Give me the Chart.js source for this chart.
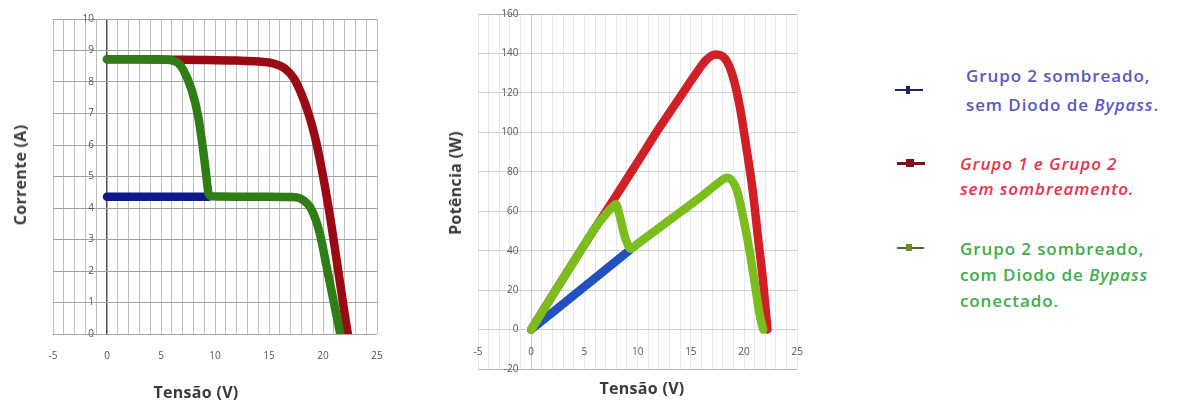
<!DOCTYPE html>
<html>
<head>
<meta charset="utf-8">
<script src="https://cdn.jsdelivr.net/npm/chart.js@4.4.1/dist/chart.umd.min.js"></script>
<style>
  body { margin:0; background:#fff; width:1178px; height:403px; position:relative; overflow:hidden; font-family:"Open Sans", sans-serif; }
  canvas { position:absolute; top:0; }
  #cIV { left:0; }
  #cPV { left:420px; }
  .ttl { position:absolute; font-weight:bold; font-size:16px; color:#3a3a3a; white-space:nowrap; letter-spacing:0.3px; }
  .rot { transform:translate(-50%,-50%) rotate(-90deg); }
  .hor { transform:translate(-50%,-50%); }
  .lg { position:absolute; font-size:17px; font-weight:600; white-space:nowrap; transform:translateY(-50%); letter-spacing:0.9px; }
  .mk { position:absolute; }
</style>
</head>
<body>
<canvas id="cIV" width="400" height="403"></canvas>
<canvas id="cPV" width="400" height="403"></canvas>

<div class="ttl rot" style="left:20px;top:175px">Corrente (A)</div>
<div class="ttl hor" style="left:196px;top:392px">Tensão (V)</div>
<div class="ttl rot" style="left:455px;top:183px">Potência (W)</div>
<div class="ttl hor" style="left:642px;top:388px">Tensão (V)</div>

<!-- legend -->
<div class="mk" style="left:895px;top:89px;width:28px;height:2px;background:#1c2560"></div>
<div class="mk" style="left:906px;top:86px;width:4px;height:8px;background:#1c2560"></div>
<div class="lg" style="left:966px;top:75px;color:#5a58c8">Grupo 2 sombreado,</div>
<div class="lg" style="left:966px;top:104px;color:#5a58c8">sem Diodo de <i>Bypass</i>.</div>

<div class="mk" style="left:897px;top:162px;width:28px;height:3px;background:#7a1020"></div>
<div class="mk" style="left:906px;top:159px;width:8px;height:8px;background:#8a0a18"></div>
<div class="lg" style="left:960px;top:163px;color:#e8334a"><i>Grupo 1 e Grupo 2</i></div>
<div class="lg" style="left:960px;top:188px;color:#e8334a"><i>sem sombreamento.</i></div>

<div class="mk" style="left:897px;top:247px;width:27px;height:2px;background:#4f6b2a"></div>
<div class="mk" style="left:906px;top:244px;width:6px;height:7px;background:#6b8a2a"></div>
<div class="lg" style="left:960px;top:248px;color:#3dae4a">Grupo 2 sombreado,</div>
<div class="lg" style="left:960px;top:274px;color:#3dae4a">com Diodo de <i>Bypass</i></div>
<div class="lg" style="left:960px;top:300px;color:#3dae4a">conectado.</div>

<script>
// I-V curves (left)
const ivRedV = [0, 3, 6, 9, 12, 14, 15.5, 16.5, 17.3, 18.0, 18.7, 19.3, 19.9, 20.5, 21.0, 21.5, 22.0, 22.3];
const ivRedI = [8.72, 8.72, 8.71, 8.70, 8.68, 8.65, 8.58, 8.42, 8.12, 7.62, 6.95, 6.2, 5.2, 4.05, 2.95, 1.8, 0.65, 0];

const ivGreenV = [0, 3, 5.5, 6.1, 6.6, 7.07, 7.84, 8.45, 8.86, 9.17, 9.4, 9.7, 12, 15, 17.0, 17.9, 18.95, 19.7, 20.3, 20.95, 21.6];
const ivGreenI = [8.72, 8.72, 8.71, 8.68, 8.6, 8.38, 7.75, 6.9, 5.95, 5.1, 4.47, 4.37, 4.36, 4.36, 4.35, 4.3, 3.94, 3.2, 2.2, 1.1, 0];

const ivBlueV = [0, 3, 6, 9.4];
const ivBlueI = [4.36, 4.36, 4.36, 4.36];

// P-V curves (right)
const pvRedV = [0, 2, 4, 6, 8, 10, 12, 14, 15.5, 16.5, 17.3, 18.0, 18.85, 19.6, 20.2, 20.8, 21.3, 21.8, 22.2];
const pvRedP = [0, 17.4, 34.5, 51.5, 68, 85, 102, 118, 130, 137, 139.5, 138.5, 130, 113, 92.8, 70.9, 47.2, 23.6, 0];

const pvGreenV = [0, 2, 4, 6, 7, 7.6, 7.95, 8.3, 8.7, 9.0, 9.35, 10, 12, 14, 16, 17.5, 18.4, 19.3, 19.9, 20.5, 21.0, 21.5, 21.8];
const pvGreenP = [0, 17.3, 34.5, 51.5, 58.5, 62, 63.5, 58, 49, 44, 41, 43.5, 51.5, 59.5, 67.5, 74, 77, 71, 57.4, 40.5, 23.6, 6.7, 0];

const pvBlueV = [0, 3, 6, 9.3];
const pvBlueP = [0, 13, 26.1, 40.5];

function pts(xs, ys) {
  return xs.map((x, i) => ({x: x, y: ys[i]}));
}

function curve(label, xs, ys, color, w, ord) {
  return {
    label: label,
    data: pts(xs, ys),
    borderColor: color,
    backgroundColor: color,
    borderWidth: w,
    pointRadius: 0,
    showLine: true,
    fill: false,
    order: ord,
    cubicInterpolationMode: 'monotone',
    borderCapStyle: 'round',
    borderJoinStyle: 'round'
  };
}

const tickFont = {family: 'Open Sans', size: 10};

function fiveOnly(v) {
  return v % 5 === 0 ? v : '';
}

// I-V chart
new Chart(document.getElementById('cIV'), {
  type: 'scatter',
  data: {
    datasets: [
      curve('Grupo 2 sombreado, com Diodo de Bypass conectado', ivGreenV, ivGreenI, '#2f7d14', 8.5, 0),
      curve('Grupo 1 e Grupo 2 sem sombreamento', ivRedV, ivRedI, '#9a0a12', 8.5, 1),
      curve('Grupo 2 sombreado, sem Diodo de Bypass', ivBlueV, ivBlueI, '#0d1a8a', 8.5, 2)
    ]
  },
  options: {
    responsive: false,
    animation: false,
    layout: {padding: {left: 53, right: 23, top: 19, bottom: 69}},
    plugins: {legend: {display: false}, tooltip: {enabled: false}},
    scales: {
      x: {
        type: 'linear', min: -5, max: 25, position: {y: 0},
        ticks: {stepSize: 1, autoSkip: false, callback: fiveOnly, font: tickFont, color: '#555', padding: 16, maxRotation: 0},
        grid: {
          color: ctx => (ctx.tick && ctx.tick.value === 0) ? '#505050' : '#bdbdbd',
          lineWidth: ctx => (ctx.tick && ctx.tick.value === 0) ? 1.5 : 1,
          drawTicks: false
        },
        border: {display: false}
      },
      y: {
        // labels sit just left of the V=0 line
        type: 'linear', min: 0, max: 10, position: {x: -1.2},
        ticks: {stepSize: 1, font: tickFont, color: '#555'},
        grid: {color: '#a2a2a2', drawTicks: false},
        border: {display: false}
      }
    }
  }
});

// P-V chart
new Chart(document.getElementById('cPV'), {
  type: 'scatter',
  data: {
    datasets: [
      curve('Grupo 2 sombreado, com Diodo de Bypass conectado', pvGreenV, pvGreenP, '#7cbd1e', 8.5, 0),
      curve('Grupo 1 e Grupo 2 sem sombreamento', pvRedV, pvRedP, '#d21f26', 8.5, 1),
      curve('Grupo 2 sombreado, sem Diodo de Bypass', pvBlueV, pvBlueP, '#2250c0', 8.5, 2)
    ]
  },
  options: {
    responsive: false,
    animation: false,
    layout: {padding: {left: 58, right: 18, top: 14, bottom: 34}},
    plugins: {legend: {display: false}, tooltip: {enabled: false}},
    scales: {
      x: {
        type: 'linear', min: -5, max: 25, position: {y: 0},
        ticks: {stepSize: 1, autoSkip: false, callback: fiveOnly, font: tickFont, color: '#555', padding: 17, maxRotation: 0},
        grid: {
          color: ctx => (ctx.tick && ctx.tick.value === 0) ? '#c4c4c4' : '#e6e6e6',
          drawTicks: false
        },
        border: {display: false}
      },
      y: {
        type: 'linear', min: -20, max: 160, position: {x: -1.2},
        ticks: {stepSize: 20, font: tickFont, color: '#555'},
        grid: {
          color: ctx => (ctx.tick && (ctx.tick.value === 160 || ctx.tick.value === -20)) ? '#b5b5b5' : '#d0d0d0',
          drawTicks: false
        },
        border: {display: false}
      }
    }
  }
});
</script>
</body>
</html>
